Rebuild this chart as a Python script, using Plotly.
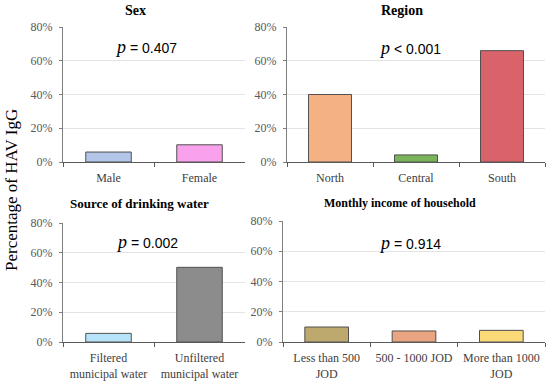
import plotly.graph_objects as go

W, H = 550, 385

sex_cats = ["Male", "Female"]
sex_vals = [5.9, 10.2]
sex_colors = ["#b4c6e7", "#f9a1ec"]

region_cats = ["North", "Central", "South"]
region_vals = [40.0, 4.2, 66.0]
region_colors = ["#f4b183", "#7ab55c", "#d9636b"]

water_cats = ["Filtered<br>municipal water", "Unfiltered<br>municipal water"]
water_vals = [5.8, 50.2]
water_colors = ["#b6e3f8", "#8c8c8c"]

income_cats = ["Less than 500<br>JOD", "500 - 1000 JOD", "More than 1000<br>JOD"]
income_vals = [9.9, 7.3, 7.7]
income_colors = ["#bda96e", "#e9a582", "#fbd878"]

titles = ["Sex", "Region", "Source of drinking water", "Monthly income of household"]
p_ops = ["=", "&lt;", "=", "="]
p_nums = ["0.407", "0.001", "0.002", "0.914"]
y_ticks = [0, 20, 40, 60, 80]
y_ticktext = ["0%", "20%", "40%", "60%", "80%"]

SERIF = "Liberation Serif"
NUMFONT = "Liberation Sans"

# panel boxes in pixels: (left, right, top, bottom)
boxes = [(63, 245, 27, 162), (287, 545, 27, 162), (63, 245, 223, 342), (283, 545, 221, 342)]
panels = [
    (sex_cats, sex_vals, sex_colors),
    (region_cats, region_vals, region_colors),
    (water_cats, water_vals, water_colors),
    (income_cats, income_vals, income_colors),
]

fig = go.Figure()
layout = dict(
    width=W, height=H, margin=dict(l=0, r=0, t=0, b=0, autoexpand=False),
    paper_bgcolor="white", plot_bgcolor="white", showlegend=False,
    bargap=0.5, font=dict(family=SERIF, size=12, color="#404040"),
)
for i, ((cats, vals, cols), (l, r, t, b)) in enumerate(zip(panels, boxes)):
    n = i + 1
    xa = "x" if n == 1 else f"x{n}"
    ya = "y" if n == 1 else f"y{n}"
    fig.add_trace(go.Bar(
        x=cats, y=vals, xaxis=xa, yaxis=ya,
        marker=dict(color=cols, line=dict(color="#505050", width=1)),
        hoverinfo="skip",
    ))
    xkey = "xaxis" if n == 1 else f"xaxis{n}"
    ykey = "yaxis" if n == 1 else f"yaxis{n}"
    layout[xkey] = dict(
        domain=[l / W, r / W], anchor=ya, type="category", automargin=False,
        showline=True, linecolor="#595959", linewidth=1,
        ticks="outside", tickson="boundaries", ticklen=4, tickcolor="#595959",
        ticklabelstandoff=5,
        showgrid=False, tickfont=dict(family=SERIF, size=12, color="#404040"),
    )
    layout[ykey] = dict(
        domain=[1 - b / H, 1 - t / H], anchor=xa, range=[0, 80], automargin=False,
        tickmode="array", tickvals=y_ticks, ticktext=y_ticktext,
        showline=True, linecolor="#7f7f7f", linewidth=1,
        ticks="outside", ticklen=3, tickcolor="#7f7f7f",
        ticklabelstandoff=4,
        showgrid=True, gridcolor="#e4e4e4", gridwidth=1, zeroline=False,
        tickfont=dict(family=SERIF, size=12, color="#595959"),
    )
fig.update_layout(**layout)

# titles
title_pos = [(135, 10, 14), (402, 10, 14), (139, 204, 13), (400, 203, 12)]
for txt, (x, y, s) in zip(titles, title_pos):
    fig.add_annotation(text=f"<b>{txt}</b>", x=x / W, y=1 - y / H, xref="paper", yref="paper",
                       showarrow=False, xanchor="center", yanchor="middle",
                       font=dict(family=SERIF, size=s, color="black"))

# p-values
p_pos = [(146, 47), (410, 48), (147, 242), (410, 243)]
for op, num, (x, y) in zip(p_ops, p_nums, p_pos):
    txt = (f"<span style='font-family:{SERIF};font-size:18px'><i>p</i></span>"
           f" {op} {num}")
    fig.add_annotation(text=txt, x=x / W, y=1 - y / H, xref="paper", yref="paper",
                       showarrow=False, xanchor="center", yanchor="middle",
                       font=dict(family=NUMFONT, size=14, color="black"))

fig.add_annotation(text="Percentage of HAV IgG", x=12 / W, y=1 - 190 / H, xref="paper", yref="paper",
                   showarrow=False, textangle=-90, xanchor="center", yanchor="middle",
                   font=dict(family=SERIF, size=17, color="black"))

fig.write_html("out.html", config={"displayModeBar": False},
               post_script="document.body.style.margin='0';document.body.style.overflow='hidden';")
